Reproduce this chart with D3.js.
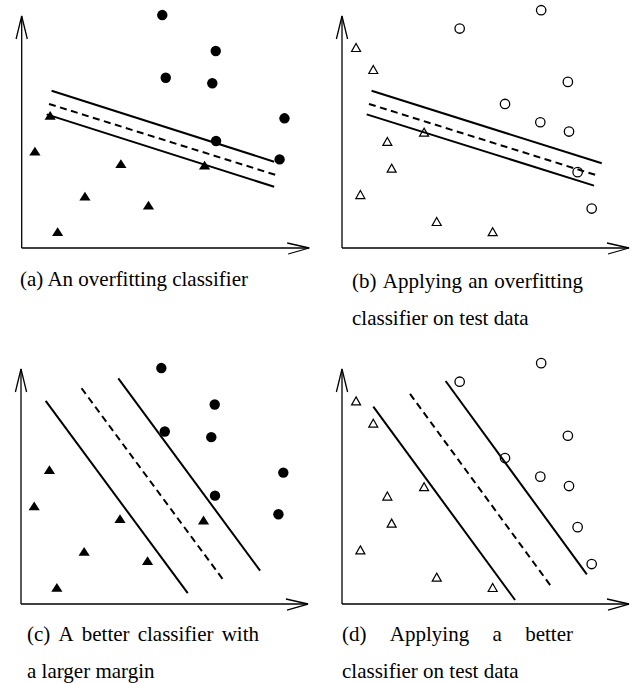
<!DOCTYPE html>
<html><head><meta charset="utf-8">
<script src="https://cdn.jsdelivr.net/npm/d3@7"></script>
<style>html,body{margin:0;padding:0;background:#fff;overflow:hidden} svg{display:block}</style>
</head><body>
<script>
// ---- data (units: 0..100 along each axis, origin at axes corner) ----
const trainCircles = [[48.9,100.4],[67.5,84.9],[50.1,73.4],[66.3,71.0],[91.4,55.9],[67.6,46.1],[89.7,38.2]];
const trainTriangles = [[9.9,56.9],[4.6,41.5],[34.5,36.1],[63.6,35.5],[22.0,22.1],[44.1,18.2],[12.5,6.8]];
const testCircles = [[41.0,94.6],[69.4,102.5],[78.7,71.6],[56.8,62.1],[69.1,54.2],[79.1,50.2],[82.1,32.7],[87.0,17.0]];
const testTriangles = [[4.9,86.3],[10.9,76.8],[15.8,45.8],[28.6,49.8],[17.3,34.3],[6.4,22.9],[33.0,11.3],[52.5,6.9]];
// boundaries [x1,y1,x2,y2]: upper margin, decision boundary (dashed), lower margin
const overfitLinesA = [[10.4,67.8,87.8,37.2],[9.5,62.1,89.1,31.2],[8.7,57.6,87.8,26.4]];
const overfitLinesB = [[10.3,67.8,90.5,36.5],[9.4,62.1,89.1,31.2],[8.6,57.6,87.8,26.9]];
const marginLinesC = [[8.6,86.4,58.1,4.6],[21.1,91.8,70.5,10.2],[33.9,96.0,83.3,14.2]];
const marginLinesD = [[10.9,84.0,60.3,1.7],[23.7,89.4,73.1,7.1],[36.1,94.9,85.3,12.6]];
const captionA = ["(a) An overfitting classifier"];
const captionB = ["(b) Applying an overfitting", "classifier on test data"];
const captionC = ["(c) A better classifier with", "a larger margin"];
const captionD = ["(d) Applying a better", "classifier on test data"];

const W = 635, H = 683;
const svg = d3.select("body").append("svg").attr("width", W).attr("height", H);

const panels = [
  {ox:21.7, oy:248, w:287.5, h:232, circles:trainCircles, tris:trainTriangles, filled:true,  lines:overfitLinesA, caption:captionA, tx:20,  ty:[286],     jw:0},
  {ox:342,  oy:248, w:287,   h:232, circles:testCircles,  tris:testTriangles,  filled:false, lines:overfitLinesB, caption:captionB, tx:352, ty:[288,325], jw:231},
  {ox:21,   oy:604, w:287,   h:235, circles:trainCircles, tris:trainTriangles, filled:true,  lines:marginLinesC,  caption:captionC, tx:27,  ty:[641,678], jw:232},
  {ox:342,  oy:604, w:287,   h:235, circles:testCircles,  tris:testTriangles,  filled:false, lines:marginLinesD,  caption:captionD, tx:342, ty:[641,678], jw:231}
];

panels.forEach(p => {
  const x = d3.scaleLinear().domain([0,100]).range([p.ox, p.ox + p.w]);
  const y = d3.scaleLinear().domain([0,100]).range([p.oy, p.oy - p.h]);
  const g = svg.append("g");

  // axes
  const ax = g.append("g").attr("stroke","#000").attr("fill","none").attr("stroke-width",1.3);
  ax.append("line").attr("x1", x(0)).attr("y1", y(0)).attr("x2", x(0)).attr("y2", y(100));
  ax.append("line").attr("x1", x(0)).attr("y1", y(0)).attr("x2", x(100)).attr("y2", y(0));
  ax.append("path").attr("d", `M${x(0)-5.6},${y(100)+23} L${x(0)},${y(100)} L${x(0)+5.6},${y(100)+23}`);
  ax.append("path").attr("d", `M${x(100)-22},${y(0)-5} L${x(100)},${y(0)} L${x(100)-21},${y(0)+6}`);

  // boundary lines
  g.selectAll("line.b").data(p.lines).join("line")
    .attr("class","b")
    .attr("x1", d => x(d[0])).attr("y1", d => y(d[1]))
    .attr("x2", d => x(d[2])).attr("y2", d => y(d[3]))
    .attr("stroke","#000").attr("stroke-width",2)
    .attr("stroke-dasharray", (d,i) => i === 1 ? "7,4.5" : null);

  // points
  if (p.filled) {
    g.selectAll("circle").data(p.circles).join("circle")
      .attr("cx", d => x(d[0])).attr("cy", d => y(d[1])).attr("r", 5.2).attr("fill","#000");
    g.selectAll("path.t").data(p.tris).join("path").attr("class","t")
      .attr("transform", d => `translate(${x(d[0])},${y(d[1])})`)
      .attr("d","M0,-5L5.6,3.8L-5.6,3.8Z").attr("fill","#000");
  } else {
    g.selectAll("circle").data(p.circles).join("circle")
      .attr("cx", d => x(d[0])).attr("cy", d => y(d[1])).attr("r", 4.7)
      .attr("fill","none").attr("stroke","#000").attr("stroke-width",1.3);
    g.selectAll("path.t").data(p.tris).join("path").attr("class","t")
      .attr("transform", d => `translate(${x(d[0])},${y(d[1])})`)
      .attr("d","M0,-4.3L4.5,3.7L-4.5,3.7Z").attr("fill","none").attr("stroke","#000").attr("stroke-width",1.2);
  }

  // caption
  p.caption.forEach((line, li) => {
    const t = svg.append("text")
      .attr("x", p.tx).attr("y", p.ty[li])
      .attr("font-family","'Liberation Serif','Times New Roman',serif")
      .attr("font-size", 21).attr("fill","#000");
    const justify = p.jw > 0 && li < p.caption.length - 1;
    if (!justify) { t.text(line); return; }
    const words = line.split(" ");
    const spans = words.map(w => t.append("tspan").text(w));
    const widths = spans.map(s => s.node().getComputedTextLength());
    const total = d3.sum(widths);
    const gap = (p.jw - total) / (words.length - 1);
    let cx = p.tx;
    spans.forEach((s, i) => { s.attr("x", cx); cx += widths[i] + gap; });
  });
});
</script>
</body></html>
